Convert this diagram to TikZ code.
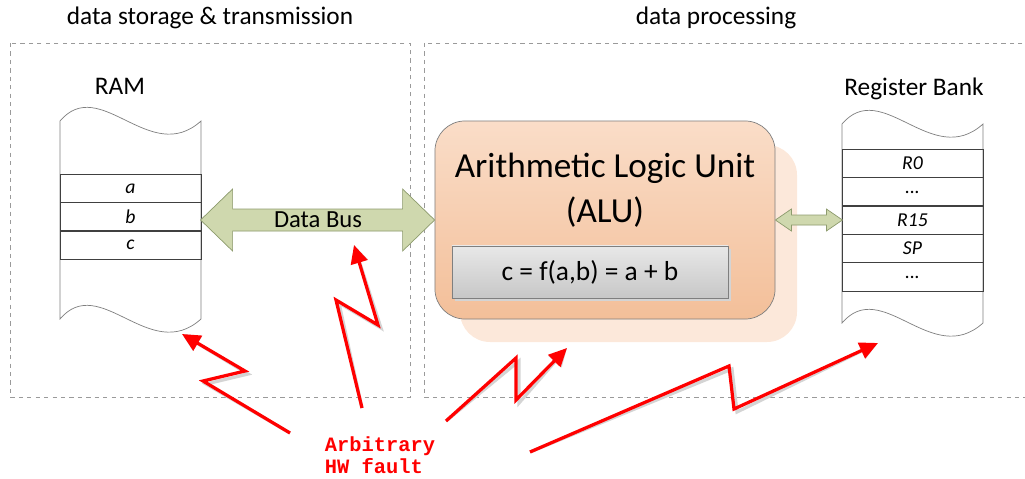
\documentclass[tikz,border=0pt]{standalone}
\usepackage{fontspec}
\setmainfont{Carlito}
\newfontfamily\faultfont{Liberation Mono}
\usetikzlibrary{arrows.meta}
\definecolor{boxgrey}{HTML}{9A9A9A}
\definecolor{aluborder}{HTML}{7F7F7F}
\definecolor{alutop}{HTML}{FADDC8}
\definecolor{alubottom}{HTML}{F3BF99}
\definecolor{alushade}{HTML}{FCE8DA}
\definecolor{busfill}{HTML}{CFD8AE}
\definecolor{busborder}{HTML}{8E9C6E}
\definecolor{shadegrey}{HTML}{D4D4D4}
\definecolor{faultred}{HTML}{FF0000}

\begin{document}
\begin{tikzpicture}[x=0.025cm, y=-0.025cm,
		areabox/.style={draw=boxgrey, dashed, line width=0.5pt},
		areatitle/.style={font=\fontsize{18}{21}\selectfont},
		memcol/.style={draw=aluborder, fill=white, line width=0.5pt},
		memrow/.style={draw=black!75, line width=0.5pt, minimum width=3.525cm, minimum height=0.7125cm, inner sep=0pt, font=\fontsize{14}{16}\selectfont\itshape},
		busarrow/.style={draw=busborder, fill=busfill, line width=0.5pt},
		fault/.style={draw=faultred, line width=2.3pt, line join=miter, -{Triangle[length=13pt,width=12pt]}},
		faultshade/.style={draw=shadegrey, line width=2.3pt, line join=miter, -{Triangle[length=13pt,width=12pt]}, shift={(3,3)}}
	]
	\useasboundingbox (0,0) rectangle (1025,479);
	\clip (0,0) rectangle (1025,479);

	\draw[areabox] (10,43) rectangle (410,397);
	\draw[areabox] (424,43) rectangle (1040,397);
	\node[areatitle] (storetitle) at (210,18) {data storage \& transmission};
	\node[areatitle] (proctitle) at (716,18) {data processing};

	% RAM
	\node[areatitle] (ramlabel) at (120,86) {RAM};
	\draw[memcol] (60,121) .. controls (100,74) and (150,167) .. (201,121) -- (201,319)
		.. controls (150,365) and (100,272) .. (60,319) -- cycle;
	\node[memrow] (rama) at (130.5,188.5) {a};
	\node[memrow] (ramb) at (130.5,217) {b};
	\node[memrow] (ramc) at (130.5,245) {c};

	% register bank
	\node[areatitle] (reglabel) at (914,89) {Register Bank};
	\draw[memcol] (842,124) .. controls (882,77) and (932,170) .. (983,124) -- (983,323)
		.. controls (932,369) and (882,276) .. (842,323) -- cycle;
	\node[memrow] (rzero) at (912.5,163.5) {R0};
	\node[memrow] (rdotsa) at (912.5,192) {...};
	\node[memrow] (rfifteen) at (912.5,220) {R15};
	\node[memrow] (rsp) at (912.5,248.5) {SP};
	\node[memrow] (rdotsb) at (912.5,277) {...};

	% ALU
	\fill[alushade, rounded corners=0.75cm] (460,145) rectangle (797,342);
	\node[draw=aluborder, line width=0.5pt, rounded corners=0.75cm, top color=alutop, bottom color=alubottom,
		minimum width=8.5cm, minimum height=4.95cm] (alu) at (605,220) {};
	\node[align=center, font=\fontsize{25}{32}\selectfont] (alutitle) at (605,190) {Arithmetic Logic Unit\\(ALU)};
	\fill[shadegrey] (455,249) rectangle (731,301);
	\node[draw=aluborder, line width=0.5pt, top color=black!9, bottom color=black!22,
		minimum width=6.9cm, minimum height=1.3cm, font=\fontsize{19.5}{23}\selectfont] (func) at (590,272) {c = f(a,b) = a + b};

	% buses
	\fill[shadegrey, shift={(4,4)}] (alu.west) -- ++(-32,-31) -- ++(0,20) -- ++(-170,0) -- ++(0,-20) -- ++(-32,31)
		-- ++(32,31) -- ++(0,-20) -- ++(170,0) -- ++(0,20) -- cycle;
	\draw[busarrow] (alu.west) -- ++(-32,-31) -- ++(0,20) -- ++(-170,0) -- ++(0,-20) -- ++(-32,31)
		-- ++(32,31) -- ++(0,-20) -- ++(170,0) -- ++(0,20) -- cycle;
	\node[font=\fontsize{17.5}{20}\selectfont] (buslabel) at (318,220) {Data Bus};
	\fill[shadegrey, shift={(3,3)}] (alu.east) -- ++(16,-11) -- ++(0,6) -- ++(35,0) -- ++(0,-6) -- ++(16,11)
		-- ++(-16,11) -- ++(0,-6) -- ++(-35,0) -- ++(0,6) -- cycle;
	\draw[busarrow] (alu.east) -- ++(16,-11) -- ++(0,6) -- ++(35,0) -- ++(0,-6) -- ++(16,11)
		-- ++(-16,11) -- ++(0,-6) -- ++(-35,0) -- ++(0,6) -- cycle;

	% faults
	\node[align=left, text=faultred, inner sep=0pt, font=\fontsize{14.5}{15.5}\faultfont\bfseries] (faultlabel) at (380,455) {Arbitrary\\HW fault};
	\coordinate (ramhit) at (182,334);
	\coordinate (bushit) at (354,245);
	\coordinate (aluhit) at (567,348);
	\coordinate (reghit) at (878,343);
	\coordinate (ramfrom) at (290,433);
	\coordinate (busfrom) at (362,408);
	\coordinate (alufrom) at (446,421);
	\coordinate (regfrom) at (530,452);

	\draw[faultshade] (ramfrom) -- (203,381) -- (245,371) -- (ramhit);
	\draw[faultshade] (busfrom) -- (336,300) -- (378,325) -- (bushit);
	\draw[faultshade] (alufrom) -- (516,358) -- (516,400) -- (aluhit);
	\draw[faultshade] (regfrom) -- (729,366) -- (734,409) -- (reghit);
	\draw[fault] (ramfrom) -- (203,381) -- (245,371) -- (ramhit);
	\draw[fault] (busfrom) -- (336,300) -- (378,325) -- (bushit);
	\draw[fault] (alufrom) -- (516,358) -- (516,400) -- (aluhit);
	\draw[fault] (regfrom) -- (729,366) -- (734,409) -- (reghit);
\end{tikzpicture}
\end{document}
